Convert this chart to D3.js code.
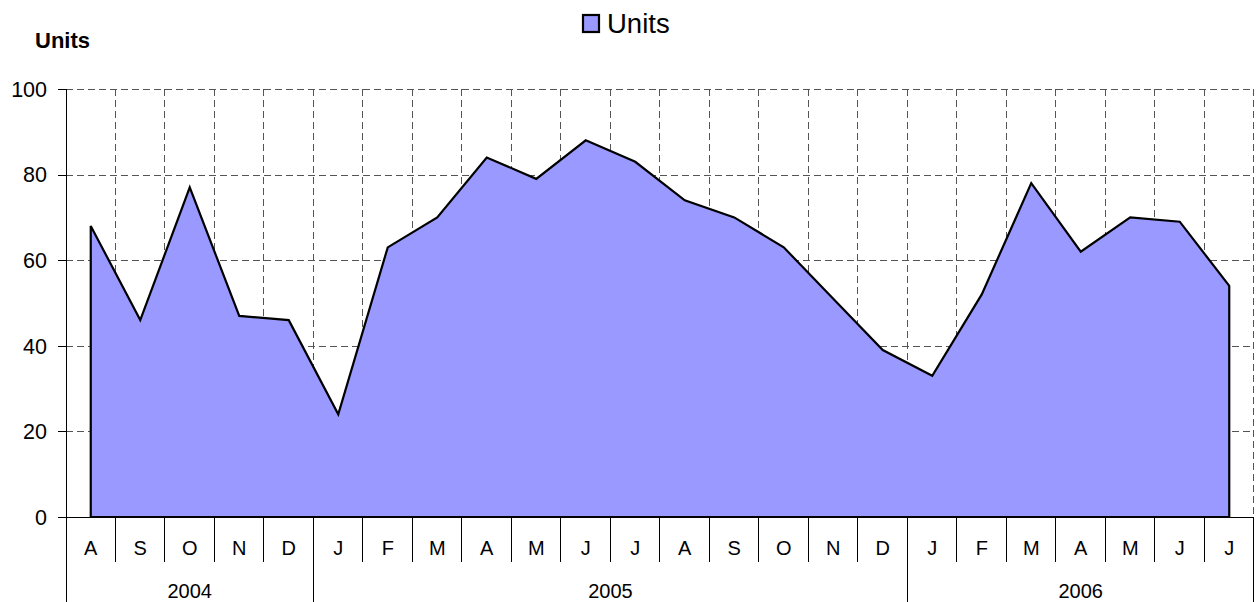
<!DOCTYPE html>
<html>
<head>
<meta charset="utf-8">
<script src="https://cdn.jsdelivr.net/npm/d3@7"></script>
<style>
  body { margin: 0; background: #fff; }
  svg text { font-family: "Liberation Sans", Arial, sans-serif; fill: #000; }
</style>
</head>
<body>
<div class="canvas"></div>
<script>
// data
const months = ["A","S","O","N","D","J","F","M","A","M","J","J","A","S","O","N","D","J","F","M","A","M","J","J"];
const years = [
  {label: "2004", count: 5},
  {label: "2005", count: 12},
  {label: "2006", count: 7}
];
const units = [68,46,77,47,46,24,63,70,84,79,88,83,74,70,63,51,39,33,52,78,62,70,69,54];
const yTicks = [0,20,40,60,80,100];

const dims = {width: 1256, height: 602};
const plot = {left: 66, right: 1254, top: 89, bottom: 517};

const svg = d3.select(".canvas")
    .append("svg")
    .attr("width", dims.width)
    .attr("height", dims.height);

const idx = d3.range(months.length);
const x = d3.scaleBand()
    .domain(idx)
    .range([plot.left, plot.right])
    .paddingInner(0).paddingOuter(0);
const y = d3.scaleLinear()
    .domain([0, 100])
    .range([plot.bottom, plot.top]);

const cx = i => x(i) + x.bandwidth() / 2;
const edge = i => i < months.length ? x(i) : plot.right;

// gridlines
const grid = svg.append("g")
    .attr("stroke", "#555")
    .attr("stroke-width", 1)
    .attr("stroke-dasharray", "7,4");
grid.selectAll("line.h")
    .data(yTicks.filter(d => d > 0))
    .enter().append("line")
    .attr("x1", plot.left).attr("x2", plot.right)
    .attr("y1", d => Math.round(y(d)) + 0.5)
    .attr("y2", d => Math.round(y(d)) + 0.5);
grid.selectAll("line.v")
    .data(idx.slice(1).concat([months.length]))
    .enter().append("line")
    .attr("x1", d => Math.round(edge(d)) - 0.5)
    .attr("x2", d => Math.round(edge(d)) - 0.5)
    .attr("y1", plot.top)
    .attr("y2", plot.bottom);

// area
const area = d3.area()
    .x((d, i) => cx(i))
    .y0(y(0))
    .y1(d => y(d));
svg.append("path")
    .datum(units)
    .attr("d", area)
    .attr("fill", "#9999ff")
    .attr("stroke", "#000")
    .attr("stroke-width", 2.2)
    .attr("stroke-linejoin", "miter");

// y axis
const yAxis = svg.append("g");
yAxis.append("line")
    .attr("x1", plot.left + 0.5).attr("x2", plot.left + 0.5)
    .attr("y1", plot.top).attr("y2", dims.height)
    .attr("stroke", "#000");
yAxis.selectAll("line.tick")
    .data(yTicks)
    .enter().append("line")
    .attr("x1", plot.left - 8).attr("x2", plot.left)
    .attr("y1", d => Math.round(y(d)) + 0.5)
    .attr("y2", d => Math.round(y(d)) + 0.5)
    .attr("stroke", "#000");
yAxis.selectAll("text")
    .data(yTicks)
    .enter().append("text")
    .attr("x", plot.left - 19)
    .attr("y", d => y(d))
    .attr("dy", "0.36em")
    .attr("text-anchor", "end")
    .style("font-size", "21.5px")
    .text(d => d);

// x axis
const xAxis = svg.append("g");
xAxis.append("line")
    .attr("x1", plot.left).attr("x2", plot.right)
    .attr("y1", plot.bottom + 0.5).attr("y2", plot.bottom + 0.5)
    .attr("stroke", "#000");
xAxis.selectAll("line.m")
    .data(idx.slice(1).concat([months.length]))
    .enter().append("line")
    .attr("x1", d => Math.round(edge(d)) - 0.5)
    .attr("x2", d => Math.round(edge(d)) - 0.5)
    .attr("y1", plot.bottom)
    .attr("y2", 562)
    .attr("stroke", "#000");
xAxis.selectAll("text.m")
    .data(months)
    .enter().append("text")
    .attr("x", (d, i) => cx(i))
    .attr("y", 555)
    .attr("text-anchor", "middle")
    .style("font-size", "20px")
    .text(d => d);

// year groups
let start = 0;
const yearPos = years.map(d => {
    const p = {label: d.label, s: start, e: start + d.count};
    start += d.count;
    return p;
});
xAxis.selectAll("line.y")
    .data(yearPos)
    .enter().append("line")
    .attr("x1", d => Math.round(edge(d.e)) - 0.5)
    .attr("x2", d => Math.round(edge(d.e)) - 0.5)
    .attr("y1", plot.bottom)
    .attr("y2", dims.height)
    .attr("stroke", "#000");
xAxis.selectAll("text.y")
    .data(yearPos)
    .enter().append("text")
    .attr("x", d => (edge(d.s) + edge(d.e)) / 2)
    .attr("y", 598)
    .attr("text-anchor", "middle")
    .style("font-size", "20px")
    .text(d => d.label);

// y title
svg.append("text")
    .attr("x", 35).attr("y", 48)
    .style("font-size", "22px")
    .style("font-weight", "bold")
    .text("Units");

// legend
const legend = svg.append("g");
legend.append("rect")
    .attr("x", 583).attr("y", 15)
    .attr("width", 16).attr("height", 17)
    .attr("fill", "#9999ff")
    .attr("stroke", "#000")
    .attr("stroke-width", 2.2);
legend.append("text")
    .attr("x", 607).attr("y", 33)
    .style("font-size", "27.5px")
    .text("Units");
</script>
</body>
</html>
